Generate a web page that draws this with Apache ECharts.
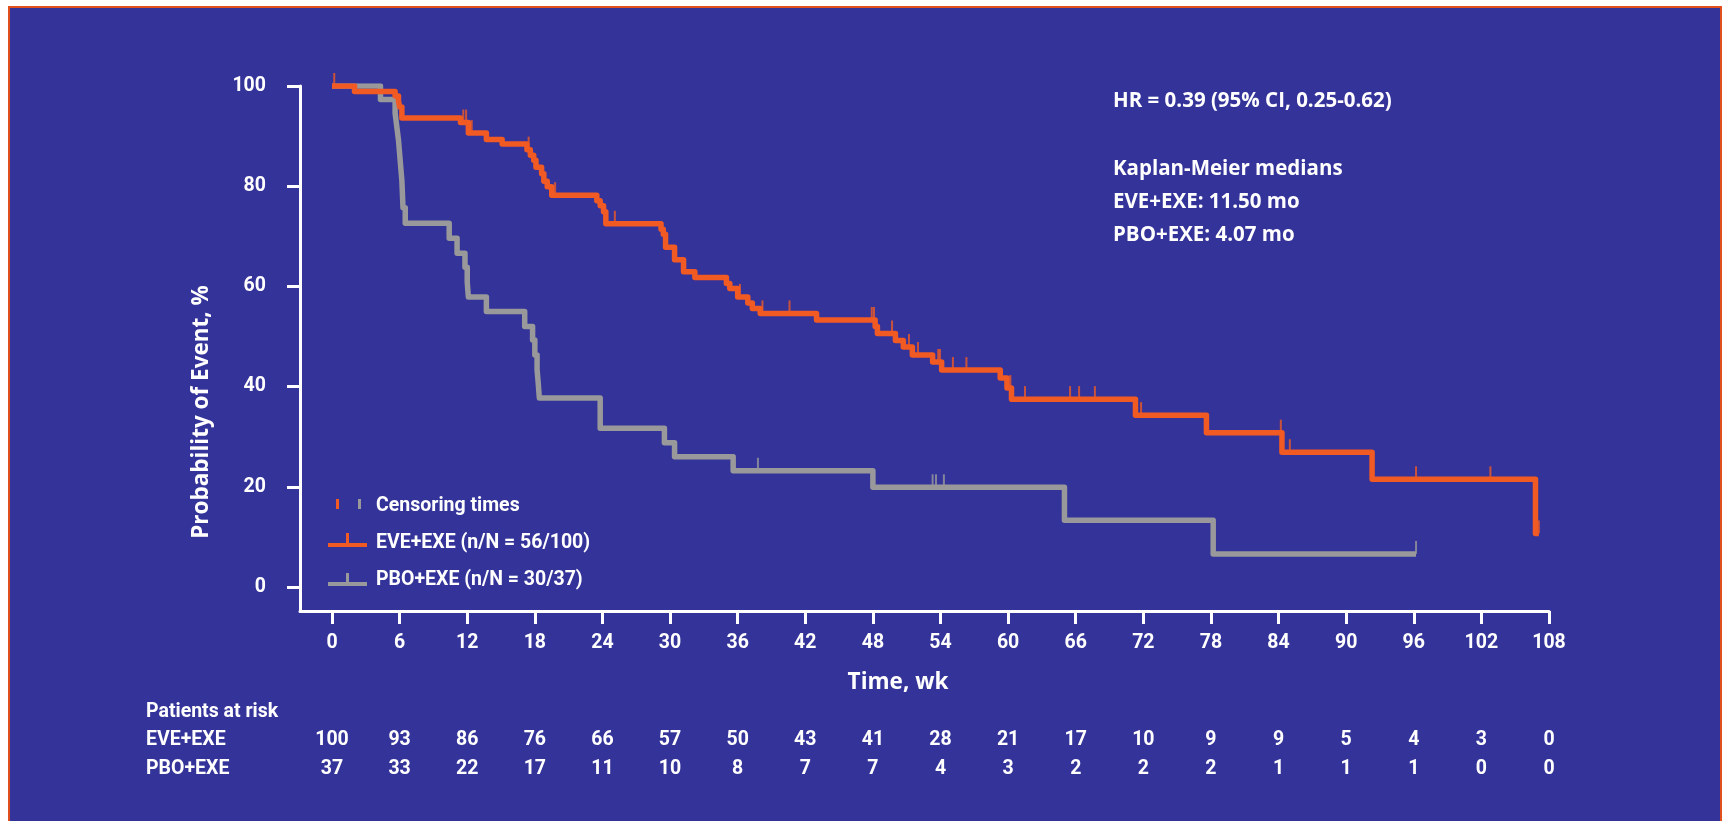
<!DOCTYPE html>
<html>
<head>
<meta charset="utf-8">
<script src="https://cdn.jsdelivr.net/npm/echarts@6/dist/echarts.min.js"></script>
<style>
html,body{margin:0;padding:0;background:#ffffff;width:1725px;height:821px;overflow:hidden}
#frame{position:absolute;left:8px;top:6px;width:1710px;height:840px;border:2px solid #E0501F;background:#343399}
#chart{position:absolute;left:0;top:0;width:1725px;height:821px}
</style>
</head>
<body>
<div id="frame"></div>
<div id="chart"></div>
<script>
// ---- data ----
const weekTicks = [0, 6, 12, 18, 24, 30, 36, 42, 48, 54, 60, 66, 72, 78, 84, 90, 96, 102, 108];
const yTicks = [0, 20, 40, 60, 80, 100];
const riskEVE = [100, 93, 86, 76, 66, 57, 50, 43, 41, 28, 21, 17, 10, 9, 9, 5, 4, 3, 0];
const riskPBO = [37, 33, 22, 17, 11, 10, 8, 7, 7, 4, 3, 2, 2, 2, 1, 1, 1, 0, 0];

const eveTimes = [0, 2.0, 5.6, 5.9, 6.0, 6.2, 11.4, 12.1, 13.7, 15.1, 17.3, 17.6, 17.9, 18.1, 18.6, 18.8, 19.1, 19.5,
  23.5, 23.8, 24.1, 24.3, 29.2, 29.4, 29.6, 30.4, 31.2, 32.2, 35.0, 35.3, 36.0, 36.9, 37.3, 38.0, 43.0,
  48.2, 48.4, 50.0, 50.7, 51.5, 53.3, 54.1, 59.3, 59.9, 60.3, 71.3, 77.6, 84.3, 92.3, 106.8, 107.1];
const eveValues = [100, 98.9, 98.0, 97.0, 95.8, 93.6, 92.7, 90.6, 89.3, 88.4, 87.3, 86.2, 85.2, 83.8, 82.5, 81.0, 79.9, 78.2,
  77.1, 76.1, 74.9, 72.5, 71.4, 70.4, 67.8, 65.3, 62.9, 61.8, 60.6, 59.6, 57.9, 56.7, 55.6, 54.6, 53.3,
  52.0, 50.6, 49.2, 47.9, 46.3, 44.9, 43.3, 41.7, 39.7, 37.5, 34.3, 30.8, 26.9, 21.5, 10.7, 10.7];

const pboTimes = [0, 4.3, 5.6, 5.75, 5.9, 6.0, 6.1, 6.2, 6.25, 6.3, 6.5, 10.4, 11.1, 11.8, 12.0, 12.1,
  13.7, 17.1, 17.8, 18.0, 18.2, 18.3, 18.4, 23.8, 29.5, 30.4, 35.6, 48.0, 65.0, 78.2, 96.2];
const pboValues = [100, 97.3, 94.6, 91.9, 89.2, 86.5, 83.8, 81.1, 78.4, 75.7, 72.6, 69.6, 66.6, 63.8, 60.9, 57.9,
  55.0, 52.0, 49.3, 46.3, 43.3, 40.7, 37.7, 31.7, 28.8, 26.0, 23.2, 19.9, 13.3, 6.6, 6.6];

const eveCensor = [0.2, 11.65, 11.9, 12.4, 17.45, 19.8, 25.1, 36.2, 38.2, 40.6, 47.9, 48.1, 49.7, 51.2, 52.0,
  53.8, 53.95, 55.1, 56.3, 60.2, 61.5, 65.5, 66.3, 67.7, 71.8, 84.2, 85.0, 96.2, 102.8, 107.1];
const pboCensor = [37.8, 53.3, 53.6, 54.3, 96.2];

// ---- styling ----
const ORANGE = '#F15A22';
const GRAY = '#99999B';
const WHITE = '#FFFFFF';
const FONT = '"Open Sans", "Noto Sans", sans-serif';
const FONT2 = 'Roboto, "Open Sans", sans-serif';
const X_MIN = -2.84;
const Y_MIN = -4.79;

function levelAt(times, values, t) {
  let v = values[0];
  for (let i = 0; i < times.length; i++) { if (times[i] <= t) v = values[i]; }
  return v;
}
const evePts = eveTimes.map((t, i) => [t, eveValues[i]]);
const pboPts = pboTimes.map((t, i) => [t, pboValues[i]]);
const eveCens = eveCensor.map(t => [t, levelAt(eveTimes, eveValues, t)]);
const pboCens = pboCensor.map(t => [t, levelAt(pboTimes, pboValues, t)]);

const chart = echarts.init(document.getElementById('chart'), null, {renderer: 'canvas'});

function txt(x, y, text, size, family, extra) {
  return Object.assign({
    type: 'text', x: x, y: y, silent: true,
    style: {text: text, fill: WHITE, fontSize: size, fontWeight: 'bold', fontFamily: family || FONT,
      align: 'left', verticalAlign: 'middle'}
  }, extra || {});
}
function rect(x, y, w, h, color) {
  return {type: 'rect', shape: {x: x, y: y, width: w, height: h}, style: {fill: color}, silent: true};
}

const labelBase = {color: WHITE, fontWeight: 'bold', fontSize: 19.5, fontFamily: FONT2};

const option = {
  animation: false,
  backgroundColor: 'transparent',
  textStyle: {fontFamily: FONT2},
  grid: {left: 300, right: 176, top: 86, bottom: 210, containLabel: false},
  xAxis: [
    {
      type: 'value', min: X_MIN, max: 108, position: 'bottom',
      axisLine: {show: true, onZero: false, lineStyle: {color: WHITE, width: 3}},
      axisTick: {show: true, customValues: weekTicks, length: 13, inside: false, lineStyle: {color: WHITE, width: 3}},
      axisLabel: Object.assign({customValues: weekTicks, margin: 22}, labelBase),
      splitLine: {show: false}
    },
    {
      type: 'value', min: X_MIN, max: 108, position: 'bottom',
      axisLine: {show: false, onZero: false}, axisTick: {show: false}, splitLine: {show: false},
      axisLabel: Object.assign({customValues: weekTicks, margin: 119,
        formatter: v => String(riskEVE[weekTicks.indexOf(v)])}, labelBase)
    },
    {
      type: 'value', min: X_MIN, max: 108, position: 'bottom',
      axisLine: {show: false, onZero: false}, axisTick: {show: false}, splitLine: {show: false},
      axisLabel: Object.assign({customValues: weekTicks, margin: 148,
        formatter: v => String(riskPBO[weekTicks.indexOf(v)])}, labelBase)
    }
  ],
  yAxis: {
    type: 'value', min: Y_MIN, max: 100,
    axisLine: {show: true, onZero: false, lineStyle: {color: WHITE, width: 3}},
    axisTick: {show: true, customValues: yTicks, length: 13, inside: false, lineStyle: {color: WHITE, width: 3}},
    axisLabel: Object.assign({customValues: yTicks, margin: 34, padding: [0, 0, 6, 0]}, labelBase),
    splitLine: {show: false}
  },
  series: [
    {
      name: 'PBO+EXE', type: 'line', step: 'end', data: pboPts, symbol: 'none', showSymbol: false,
      lineStyle: {color: GRAY, width: 5.5, join: 'round'}, itemStyle: {color: GRAY}, z: 2
    },
    {
      name: 'EVE+EXE', type: 'line', step: 'end', data: evePts, symbol: 'none', showSymbol: false,
      lineStyle: {color: ORANGE, width: 5.5, join: 'round'}, itemStyle: {color: ORANGE}, z: 3
    },
    {
      name: 'PBO+EXE censored', type: 'scatter', data: pboCens, symbol: 'rect', symbolSize: [2, 13],
      symbolOffset: [0, -6.5], itemStyle: {color: GRAY}, z: 4, silent: true
    },
    {
      name: 'EVE+EXE censored', type: 'scatter', data: eveCens, symbol: 'rect', symbolSize: [2, 13],
      symbolOffset: [0, -6.5], itemStyle: {color: ORANGE}, z: 5, silent: true
    }
  ],
  graphic: [
    // annotation
    txt(1113, 101, 'HR = 0.39 (95% CI, 0.25-0.62)', 20.5),
    txt(1113, 169, 'Kaplan-Meier medians', 20.5),
    txt(1113, 202, 'EVE+EXE: 11.50 mo', 20.5),
    txt(1113, 235, 'PBO+EXE: 4.07 mo', 20.5),
    // axis titles
    txt(898, 683, 'Time, wk', 22.5, FONT, {style: {text: 'Time, wk', fill: WHITE, fontSize: 22.5, fontWeight: 'bold', fontFamily: FONT, align: 'center', verticalAlign: 'middle'}}),
    txt(202, 412, 'Probability of Event, %', 22.5, FONT, {rotation: Math.PI / 2,
      style: {text: 'Probability of Event, %', fill: WHITE, fontSize: 22.5, fontWeight: 'bold', fontFamily: FONT, align: 'center', verticalAlign: 'middle'}}),
    // patients at risk
    txt(146, 712, 'Patients at risk', 19.5, FONT2),
    txt(146, 740, 'EVE+EXE', 19.5, FONT2),
    txt(146, 769.5, 'PBO+EXE', 19.5, FONT2),
    // legend
    rect(336, 499, 3, 10, ORANGE),
    rect(358, 499, 3, 10, GRAY),
    txt(376, 506, 'Censoring times', 19.5, FONT2),
    rect(328, 543, 39, 4, ORANGE),
    rect(346, 533, 3, 10, ORANGE),
    txt(376, 543, 'EVE+EXE (n/N = 56/100)', 19.5, FONT2),
    rect(328, 582, 39, 4, GRAY),
    rect(346, 573, 3, 9, GRAY),
    txt(376, 580, 'PBO+EXE (n/N = 30/37)', 19.5, FONT2)
  ]
};
chart.setOption(option);
</script>
</body>
</html>
